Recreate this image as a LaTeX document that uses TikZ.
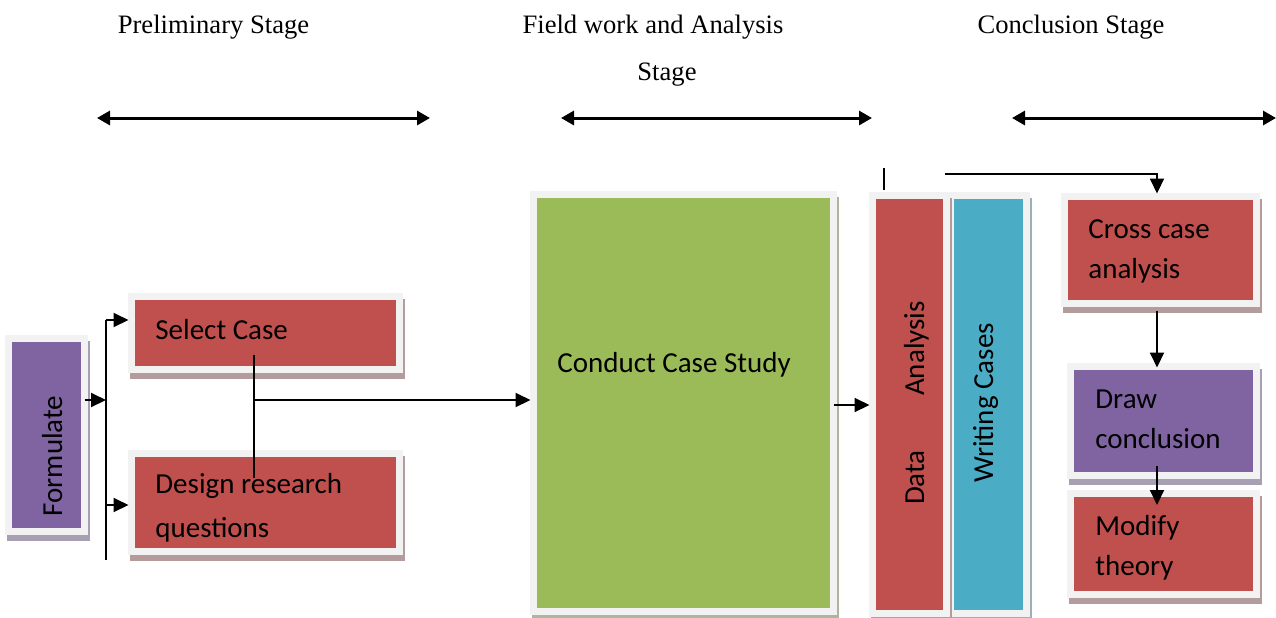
\documentclass[tikz,border=0pt]{standalone}
\usepackage{fontspec}
\setmainfont{Liberation Serif}
\newfontfamily\carl{Carlito}
\usetikzlibrary{arrows.meta}
\definecolor{redc}{HTML}{C0504D}
\definecolor{purc}{HTML}{8064A2}
\definecolor{grnc}{HTML}{9BBB59}
\definecolor{tealc}{HTML}{4BACC6}
\definecolor{framec}{HTML}{F2F2F2}
\definecolor{shred}{HTML}{B59C9C}
\definecolor{shpur}{HTML}{A89FB3}
\definecolor{shgrn}{HTML}{AEB59C}
\definecolor{shteal}{HTML}{9CB0B8}
\tikzset{
  box/.style 2 args={fill=#1, draw=framec, line width=3.5pt, inner sep=0pt, outer sep=0pt,
    anchor=north west,
    preaction={fill=#2, draw=#2, line width=3.5pt, transform canvas={shift={(1pt,-3pt)}}}},
  txt/.style={font=\carl\fontsize{14.5}{20}\selectfont, inner sep=0pt, align=left, text=black},
  stagetxt/.style={font=\fontsize{13.3}{16}\selectfont, inner sep=0pt},
  arr/.style={-{Triangle[length=7.5pt,width=7pt]}, line width=1pt},
  plain/.style={line width=0.9pt},
  span/.style={{Triangle[length=6.5pt,width=7pt]}-{Triangle[length=6.5pt,width=7pt]}, line width=1.5pt}
}
\begin{document}
\begin{tikzpicture}[x=0.5pt,y=-0.5pt]
\useasboundingbox[fill=white] (0,0) rectangle (1276,617);

% stage labels
\node[stagetxt, anchor=base] (s1) at (213.5,33) {Preliminary Stage};
\node[stagetxt, anchor=base] (s2) at (653,33) {Field work and Analysis};
\node[stagetxt, anchor=base] (s2b) at (667,80) {Stage};
\node[stagetxt, anchor=base] (s3) at (1071,33) {Conclusion Stage};

\coordinate (a1l) at (97,118);  \coordinate (a1r) at (430,118);
\coordinate (a2l) at (561,118); \coordinate (a2r) at (872,118);
\coordinate (a3l) at (1012,118); \coordinate (a3r) at (1276,118);
\draw[span] (a1l) -- (a1r);
\draw[span] (a2l) -- (a2r);
\draw[span] (a3l) -- (a3r);

% boxes
\node[box={purc}{shpur}, minimum width=38pt, minimum height=96.5pt] (form) at (8.5,338.5) {};
\node[box={redc}{shred}, minimum width=134pt, minimum height=36.5pt] (sel) at (131.5,296.5) {};
\node[box={redc}{shred}, minimum width=134pt, minimum height=49pt] (des) at (131.5,453.5) {};
\node[box={grnc}{shgrn}, minimum width=150pt, minimum height=208.5pt] (cond) at (533.5,194.5) {};
\node[box={tealc}{shteal}, minimum width=38pt, minimum height=209pt] (writ) at (950.5,195.5) {};
\node[box={redc}{shred}, minimum width=37pt, minimum height=209pt] (data) at (872.5,195.5) {};
\node[box={redc}{shred}, minimum width=96pt, minimum height=53.5pt] (cross) at (1064.5,196.5) {};
\node[box={purc}{shpur}, minimum width=93pt, minimum height=54.5pt] (dc) at (1070.5,366.5) {};
\node[box={redc}{shred}, minimum width=93pt, minimum height=50.5pt] (mod) at (1070.5,493.5) {};

% texts
\node[txt, rotate=90, anchor=base] (tform) at (62,456) {Formulate};
\node[txt, anchor=base west] (tsel) at (155,339) {Select Case};
\node[txt, anchor=base west] (tdes) at (155,537) {Design research\\[2pt]questions};
\node[txt, anchor=base west] (tcond) at (557,372) {Conduct Case Study};
\node[txt, rotate=90, anchor=base] (tdata) at (924,477.5) {Data};
\node[txt, rotate=90, anchor=base] (tana) at (924,348.5) {Analysis};
\node[txt, rotate=90, anchor=base] (twrit) at (993,403) {Writing Cases};
\node[txt, anchor=base west] (tcross) at (1088,278) {Cross case\\analysis};
\node[txt, anchor=base west] (tdc) at (1095,448) {Draw\\conclusion};
\node[txt, anchor=base west] (tmod) at (1095,575) {Modify\\theory};

% connectors
\coordinate (fb) at (106,400);
\coordinate (bt) at (106,320);
\coordinate (bd) at (106,505);
\coordinate (bb) at (106,560);
\draw[arr] (form.east |- fb) -- (fb);
\draw[plain] (bt) -- (bb);
\draw[arr] (bt) -- ([xshift=-1.5pt]sel.west |- bt);
\draw[arr] (bd) -- ([xshift=-1.5pt]des.west |- bd);

\coordinate (jt) at (254,355);
\coordinate (jb) at (254,478);
\coordinate (jm) at (254,400);
\draw[plain] (jt) -- (jb);
\draw[arr] (jm) -- ([xshift=-1.5pt]cond.west |- jm);

\coordinate (cm) at (0,405);
\draw[arr] (cond.east |- cm) -- ([xshift=-1.5pt]data.west |- cm);

\coordinate (d1) at (884,168);
\coordinate (d2) at (884,190);
\draw[plain] (d1) -- (d2);
\coordinate (c1) at (945,174);
\coordinate (ax) at (1157,0);
\draw[arr] (c1) -| ([yshift=1.5pt]cross.north -| ax);
\draw[arr] ([yshift=-3.5pt]cross.south -| ax) -- ([yshift=-0.5pt]dc.north -| ax);
\draw[arr] ([yshift=5pt]dc.south -| ax) -- ([yshift=-5.75pt]mod.north -| ax);
\end{tikzpicture}
\end{document}
